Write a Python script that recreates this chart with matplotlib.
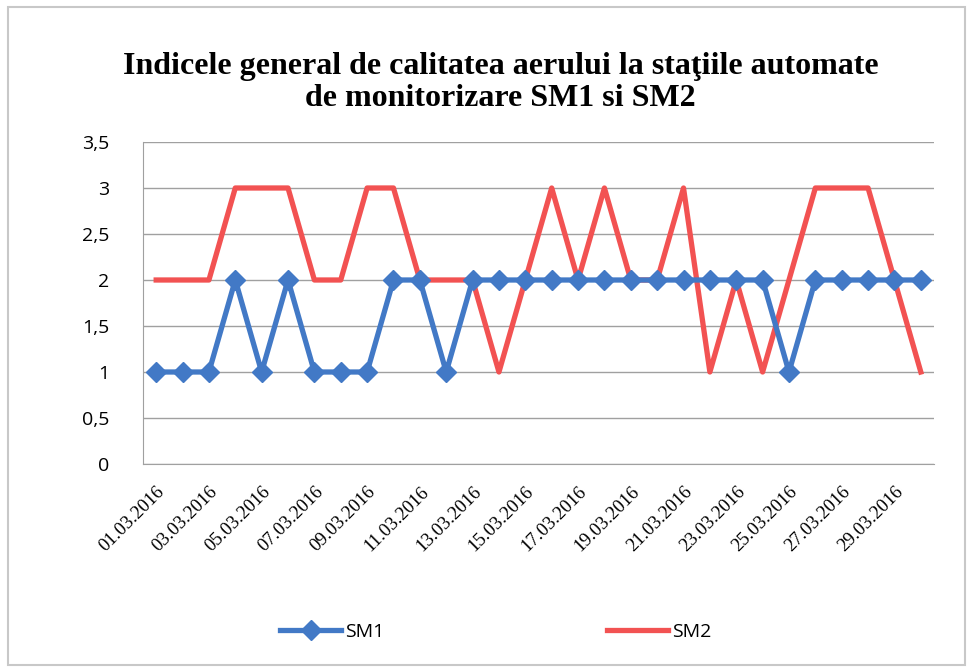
import matplotlib
matplotlib.use('Agg')
import matplotlib.pyplot as plt
from matplotlib.patches import Rectangle
from matplotlib.ticker import FuncFormatter

days = ['%02d.03.2016' % d for d in range(1, 31)]
sm1 = [1, 1, 1, 2, 1, 2, 1, 1, 1, 2, 2, 1, 2, 2, 2, 2, 2, 2, 2, 2, 2, 2, 2, 2, 1, 2, 2, 2, 2, 2]
sm2 = [2, 2, 2, 3, 3, 3, 2, 2, 3, 3, 2, 2, 2, 1, 2, 3, 2, 3, 2, 2, 3, 1, 2, 1, 2, 3, 3, 3, 2, 1]

fig = plt.figure(figsize=(9.72, 6.72), dpi=100)
ax = fig.add_axes([143 / 972, 1 - 464 / 672, (934 - 143) / 972, (464 - 142) / 672])

x = list(range(len(days)))
ax.plot(x, sm1, color='#4279C6', linewidth=3.8, marker='D', markersize=10, label='SM1', zorder=3)
ax.plot(x, sm2, color='#F25252', linewidth=3.8, label='SM2', zorder=2)

ax.set_xlim(-0.5, len(days) - 0.5)
ax.set_ylim(0, 3.5)
ax.set_yticks([0, 0.5, 1, 1.5, 2, 2.5, 3, 3.5])
ax.yaxis.set_major_formatter(FuncFormatter(lambda v, p: ('%g' % v).replace('.', ',')))
ax.grid(axis='y', color='#A0A0A0', linewidth=1)
ax.set_axisbelow(True)

ax.set_xticks(x[::2])
ax.set_xticklabels(days[::2], rotation=45, ha='right', rotation_mode='anchor',
                   fontsize=13.5, family='Liberation Serif')
ax.tick_params(axis='x', length=0, pad=14)
ax.tick_params(axis='y', length=0, pad=24, labelsize=14)
for lbl in ax.get_yticklabels():
    lbl.set_family('Open Sans')

for s in ['top', 'right']:
    ax.spines[s].set_visible(False)
ax.spines['left'].set_color('#A0A0A0')
ax.spines['bottom'].set_color('#A0A0A0')

fig.text(0.515, 0.877, 'Indicele general de calitatea aerului la staţiile automate\nde monitorizare SM1 si SM2',
         ha='center', va='center', fontsize=23, fontweight='bold', family='Liberation Serif',
         linespacing=1.15)

fig.legend(loc='center', bbox_to_anchor=(0.51, 0.06), ncol=2, frameon=False,
           prop={'family': 'Open Sans', 'size': 14}, handlelength=3.1,
           columnspacing=11.5, handletextpad=0.2)

fig.patches.append(Rectangle((8 / 972, 7 / 672), 957 / 972, 658 / 672, transform=fig.transFigure,
                             fill=False, edgecolor='#C8C8C8', linewidth=1.5))

fig.savefig('out.png', dpi=100)
